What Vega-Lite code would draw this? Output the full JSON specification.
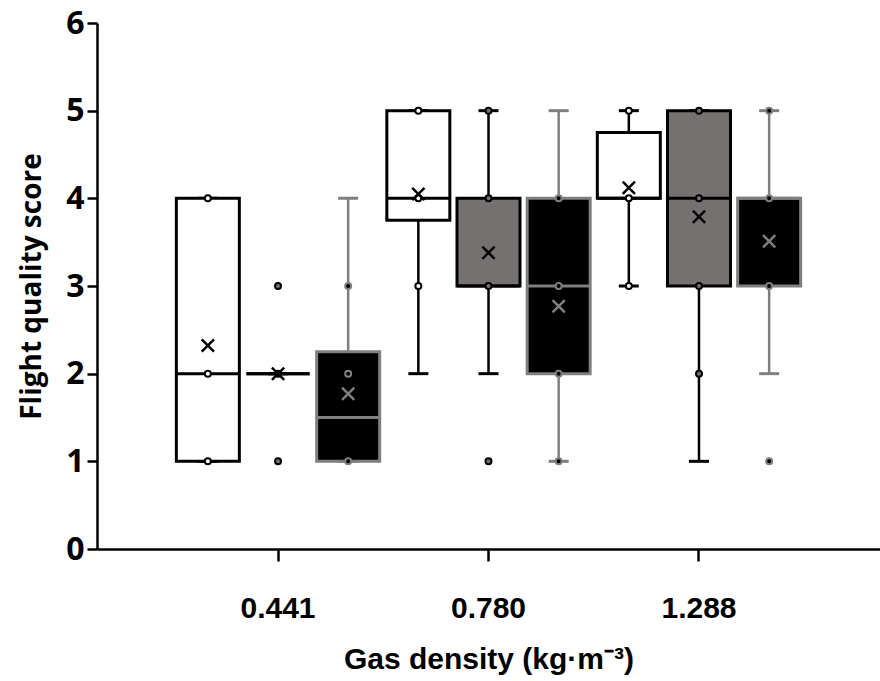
{
  "$schema": "https://vega.github.io/schema/vega-lite/v6.json",
  "autosize": {"type": "none"},
  "width": 783,
  "height": 526,
  "padding": {"left": 97, "top": 23, "right": 0, "bottom": 132},
  "background": "white",
  "config": {"view": {"stroke": null}},
  "datasets": {
    "boxes": [
      {"g": "0.441", "s": "A", "lower": 1, "q1": 1, "median": 2, "q3": 4, "upper": 4, "mean": 2.32},
      {"g": "0.441", "s": "B", "lower": 2, "q1": 2, "median": 2, "q3": 2, "upper": 2, "mean": 2.0},
      {"g": "0.441", "s": "C", "lower": 1, "q1": 1, "median": 1.5, "q3": 2.25, "upper": 4, "mean": 1.77},
      {"g": "0.780", "s": "A", "lower": 2, "q1": 3.75, "median": 4, "q3": 5, "upper": 5, "mean": 4.05},
      {"g": "0.780", "s": "B", "lower": 2, "q1": 3, "median": 3, "q3": 4, "upper": 5, "mean": 3.38},
      {"g": "0.780", "s": "C", "lower": 1, "q1": 2, "median": 3, "q3": 4, "upper": 5, "mean": 2.77},
      {"g": "1.288", "s": "A", "lower": 3, "q1": 4, "median": 4, "q3": 4.75, "upper": 5, "mean": 4.12},
      {"g": "1.288", "s": "B", "lower": 1, "q1": 3, "median": 4, "q3": 5, "upper": 5, "mean": 3.79},
      {"g": "1.288", "s": "C", "lower": 2, "q1": 3, "median": 4, "q3": 4, "upper": 5, "mean": 3.51}
    ],
    "pts": [
      {"g": "0.441", "s": "A", "v": 1}, {"g": "0.441", "s": "A", "v": 2}, {"g": "0.441", "s": "A", "v": 4},
      {"g": "0.441", "s": "B", "v": 1}, {"g": "0.441", "s": "B", "v": 2}, {"g": "0.441", "s": "B", "v": 3},
      {"g": "0.441", "s": "C", "v": 1}, {"g": "0.441", "s": "C", "v": 2}, {"g": "0.441", "s": "C", "v": 3},
      {"g": "0.780", "s": "A", "v": 3}, {"g": "0.780", "s": "A", "v": 4}, {"g": "0.780", "s": "A", "v": 5},
      {"g": "0.780", "s": "B", "v": 1}, {"g": "0.780", "s": "B", "v": 3}, {"g": "0.780", "s": "B", "v": 4}, {"g": "0.780", "s": "B", "v": 5},
      {"g": "0.780", "s": "C", "v": 1}, {"g": "0.780", "s": "C", "v": 2}, {"g": "0.780", "s": "C", "v": 3}, {"g": "0.780", "s": "C", "v": 4},
      {"g": "1.288", "s": "A", "v": 3}, {"g": "1.288", "s": "A", "v": 4}, {"g": "1.288", "s": "A", "v": 5},
      {"g": "1.288", "s": "B", "v": 2}, {"g": "1.288", "s": "B", "v": 3}, {"g": "1.288", "s": "B", "v": 4}, {"g": "1.288", "s": "B", "v": 5},
      {"g": "1.288", "s": "C", "v": 1}, {"g": "1.288", "s": "C", "v": 3}, {"g": "1.288", "s": "C", "v": 4}, {"g": "1.288", "s": "C", "v": 5}
    ]
  },
  "encoding": {
    "x": {
      "field": "g", "type": "ordinal",
      "scale": {"domain": ["0.441", "0.780", "1.288"], "paddingInner": 0, "paddingOuter": 0.36},
      "axis": {
        "title": "Gas density (kg·m⁻³)",
        "labelAngle": 0,
        "domainColor": "black", "domainWidth": 2.5,
        "tickColor": "black", "tickWidth": 2.5, "tickSize": 12,
        "labelFont": "Liberation Sans", "labelFontWeight": "bold", "labelFontSize": 30, "labelColor": "black",
        "labelPadding": 32,
        "titleFont": "Liberation Sans", "titleFontWeight": "bold", "titleFontSize": 30, "titleColor": "black",
        "titlePadding": 21
      }
    },
    "xOffset": {"field": "s", "type": "nominal", "scale": {"domain": ["A", "B", "C"], "paddingInner": 0, "paddingOuter": 0}}
  },
  "layer": [
    {
      "data": {"name": "boxes"},
      "mark": {"type": "rule", "strokeWidth": 2.5},
      "encoding": {
        "y": {"field": "lower", "type": "quantitative", "scale": {"domain": [0, 6]},
          "axis": {
            "title": "Flight quality score", "values": [0, 1, 2, 3, 4, 5, 6], "format": "d", "grid": false,
            "domainColor": "black", "domainWidth": 2.5,
            "tickColor": "black", "tickWidth": 2.5, "tickSize": 10,
            "labelFont": "Open Sans", "labelFontWeight": "bold", "labelFontSize": 32, "labelColor": "black", "labelPadding": 3,
            "titleFont": "Open Sans", "titleFontWeight": "bold", "titleFontSize": 28, "titleColor": "black", "titlePadding": 19
          }},
        "y2": {"field": "upper"},
        "stroke": {"field": "s", "type": "nominal", "scale": {"domain": ["A", "B", "C"], "range": ["#000000", "#000000", "#7f7f7f"]}, "legend": null}
      }
    },
    {
      "data": {"name": "boxes"},
      "mark": {"type": "tick", "thickness": 3, "size": 20, "opacity": 1},
      "encoding": {
        "y": {"field": "lower", "type": "quantitative"},
        "color": {"field": "s", "type": "nominal", "scale": {"domain": ["A", "B", "C"], "range": ["#000000", "#000000", "#7f7f7f"]}, "legend": null}
      }
    },
    {
      "data": {"name": "boxes"},
      "mark": {"type": "tick", "thickness": 3, "size": 20, "opacity": 1},
      "encoding": {
        "y": {"field": "upper", "type": "quantitative"},
        "color": {"field": "s", "type": "nominal", "scale": {"domain": ["A", "B", "C"], "range": ["#000000", "#000000", "#7f7f7f"]}, "legend": null}
      }
    },
    {
      "data": {"name": "boxes"},
      "mark": {"type": "bar", "size": 63, "strokeWidth": 3, "fillOpacity": 1},
      "encoding": {
        "y": {"field": "q1", "type": "quantitative"},
        "y2": {"field": "q3"},
        "fill": {"field": "s", "type": "nominal", "scale": {"domain": ["A", "B", "C"], "range": ["#ffffff", "#767171", "#000000"]}, "legend": null},
        "stroke": {"field": "s", "type": "nominal", "scale": {"domain": ["A", "B", "C"], "range": ["#000000", "#000000", "#7f7f7f"]}, "legend": null}
      }
    },
    {
      "data": {"name": "boxes"},
      "mark": {"type": "tick", "thickness": 3, "size": 63, "opacity": 1},
      "encoding": {
        "y": {"field": "median", "type": "quantitative"},
        "color": {"field": "s", "type": "nominal", "scale": {"domain": ["A", "B", "C"], "range": ["#000000", "#000000", "#7f7f7f"]}, "legend": null}
      }
    },
    {
      "data": {"name": "pts"},
      "mark": {"type": "point", "shape": "circle", "filled": true, "size": 36, "strokeWidth": 2, "opacity": 1},
      "encoding": {
        "y": {"field": "v", "type": "quantitative"},
        "fill": {"field": "s", "type": "nominal", "scale": {"domain": ["A", "B", "C"], "range": ["#ffffff", "#767171", "#000000"]}, "legend": null},
        "stroke": {"field": "s", "type": "nominal", "scale": {"domain": ["A", "B", "C"], "range": ["#000000", "#000000", "#7f7f7f"]}, "legend": null}
      }
    },
    {
      "data": {"name": "boxes"},
      "mark": {"type": "point", "shape": "M-1,-1L1,1M-1,1L1,-1", "filled": false, "size": 150, "strokeWidth": 2.5, "opacity": 1},
      "encoding": {
        "y": {"field": "mean", "type": "quantitative"},
        "stroke": {"field": "s", "type": "nominal", "scale": {"domain": ["A", "B", "C"], "range": ["#000000", "#000000", "#7f7f7f"]}, "legend": null}
      }
    }
  ]
}
